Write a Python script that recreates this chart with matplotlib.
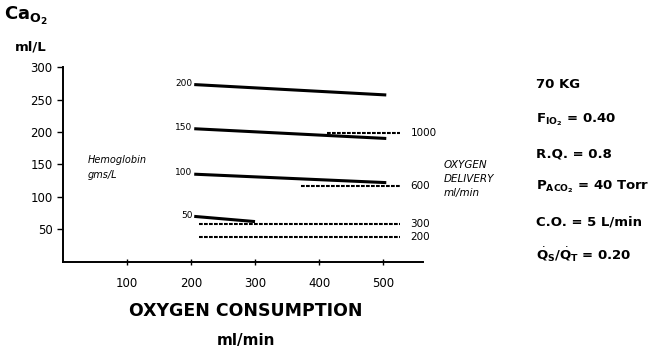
import matplotlib

matplotlib.use("Agg")
import matplotlib.pyplot as plt

# Hemoglobin (gms/L) iso-lines: CaO2 vs oxygen consumption
hb_levels = ["200", "150", "100", "50"]
hb_x = [[205, 505], [205, 505], [205, 505], [205, 300]]
hb_y = [[273, 257], [205, 190], [135, 122], [70, 62]]

# Oxygen delivery (ml/min) iso-lines
do2_levels = ["1000", "600", "300", "200"]
do2_x = [[412, 527], [372, 527], [212, 527], [212, 527]]
do2_y = [[198, 198], [117, 117], [58, 58], [38, 38]]

x_ticks = [100, 200, 300, 400, 500]
y_ticks = [50, 100, 150, 200, 250, 300]

conditions = [
    "70 KG",
    r"F$_{\mathregular{IO_2}}$ = 0.40",
    "R.Q. = 0.8",
    r"P$_{\mathregular{ACO_2}}$ = 40 Torr",
    "C.O. = 5 L/min",
    r"$\dot{\mathregular{Q}}_\mathregular{S}$/$\dot{\mathregular{Q}}_\mathregular{T}$ = 0.20",
]

plt.rcParams["font.family"] = "DejaVu Sans"
plt.rcParams["mathtext.fontset"] = "dejavusans"

fig = plt.figure(figsize=(6.7, 3.51), dpi=100)
ax = fig.add_axes([0.094, 0.254, 0.537, 0.555])

for lab, xs, ys in zip(hb_levels, hb_x, hb_y):
    ax.plot(xs, ys, color="black", linewidth=2.2, solid_capstyle="butt")
    ax.text(xs[0] - 3, ys[0] + 2, lab, ha="right", va="center", fontsize=6.5)

for lab, xs, ys in zip(do2_levels, do2_x, do2_y):
    ax.plot(xs, ys, color="black", linewidth=1.5, linestyle=(0, (1.8, 0.6)),
            clip_on=False)
    ax.text(xs[1] + 16, ys[0], lab, ha="left", va="center", fontsize=7.5)

ax.set_xlim(0, 562)
ax.set_ylim(0, 300)
ax.set_xticks(x_ticks)
ax.set_yticks(y_ticks)
ax.tick_params(labelsize=8.5, length=4, width=1)
ax.tick_params(axis="x", direction="inout", pad=9)
for s in ("top", "right"):
    ax.spines[s].set_visible(False)
for s in ("left", "bottom"):
    ax.spines[s].set_linewidth(1.4)

# curve family labels
ax.text(38, 165, "Hemoglobin\ngms/L", style="italic", fontsize=7,
        ha="left", va="top", linespacing=1.7)
fig.text(0.662, 0.545, "OXYGEN\nDELIVERY\nml/min", style="italic", fontsize=7.5,
         ha="left", va="top", linespacing=1.5)

# axis titles
fig.text(0.006, 0.955, r"Ca$_{\mathregular{O_2}}$", fontsize=13, fontweight="bold",
         ha="left", va="center")
fig.text(0.022, 0.865, "ml/L", fontsize=9.5, fontweight="bold", ha="left", va="center")
fig.text(0.367, 0.114, "OXYGEN CONSUMPTION", fontsize=12.5, fontweight="bold",
         ha="center", va="center")
fig.text(0.367, 0.03, "ml/min", fontsize=11, fontweight="bold",
         ha="center", va="center")

# experimental conditions
cond_y = [0.758, 0.66, 0.56, 0.468, 0.367, 0.274]
for txt, yy in zip(conditions, cond_y):
    fig.text(0.8, yy, txt, fontsize=9.5, fontweight="bold", ha="left", va="center")

fig.savefig("out.png", dpi=100, facecolor="white")
